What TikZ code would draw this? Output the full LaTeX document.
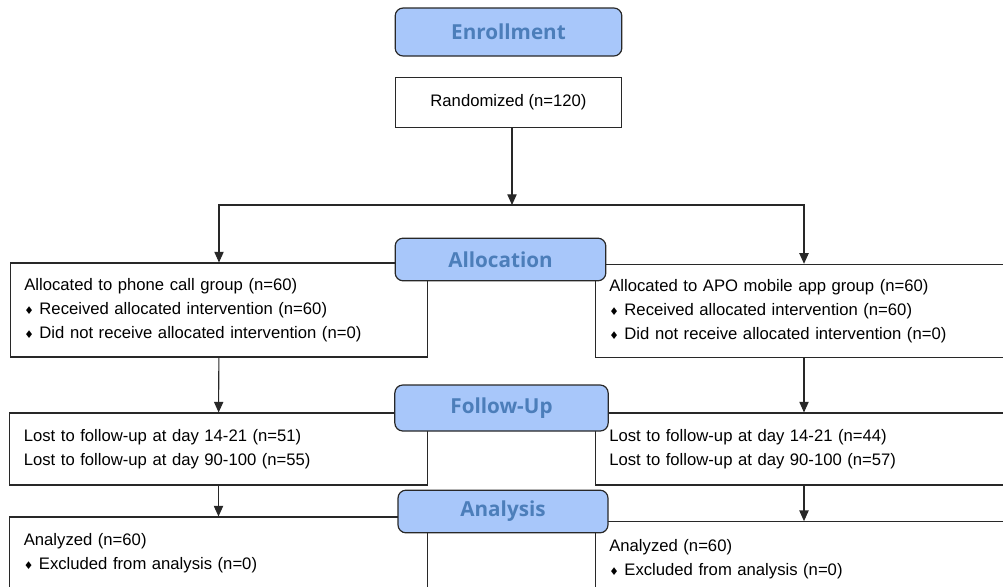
\documentclass[tikz,border=0pt]{standalone}
\usepackage{fontspec}
\setmainfont{Liberation Sans}
\newfontfamily\stagefont{Open Sans}
\newfontfamily\symfont{DejaVu Sans}
\usetikzlibrary{arrows.meta}
\definecolor{stagefill}{RGB}{168,199,250}
\definecolor{stagetext}{RGB}{76,126,186}
\definecolor{edge}{RGB}{40,40,40}
\def\dia{{\footnotesize\symfont ♦}\ }

\begin{document}
\begin{tikzpicture}[x=0.75pt,y=-0.75pt,
  stage/.style={draw=edge,fill=stagefill,rounded corners=6pt,line width=0.9pt,inner sep=0pt,
    text=stagetext,font=\stagefont\bfseries\fontsize{15.5}{18}\selectfont},
  infobox/.style={draw=edge,fill=white,line width=0.8pt,align=left,text width=292pt,
    inner xsep=10.5pt,font=\fontsize{12.5}{18}\selectfont},
  arr/.style={draw=edge,line width=0.8pt,-{Triangle[length=8pt,width=7pt]}}]
\useasboundingbox (0,0) rectangle (1003,586);
\clip (0,0) rectangle (1003,586);
%
\node[draw=edge,line width=0.8pt,minimum width=170pt,minimum height=38pt,
  font=\fontsize{12.5}{18}\selectfont] (rand) at (508.5,102.5) {Randomized (n=120)};
\coordinate (split) at (512,205);
%
\node[infobox,minimum height=70.5pt] (allocL) at (219,310) {Allocated to phone call group (n=60)\\
  \dia Received allocated intervention (n=60)\\ \dia Did not receive allocated intervention (n=0)};
\node[infobox,minimum height=70pt] (allocR) at (804,311) {Allocated to APO mobile app group (n=60)\\
  \dia Received allocated intervention (n=60)\\ \dia Did not receive allocated intervention (n=0)};
\node[infobox,minimum height=54pt] (fuL) at (218.5,449) {Lost to follow-up at day 14-21 (n=51)\\
  Lost to follow-up at day 90-100 (n=55)};
\node[infobox,minimum height=54pt] (fuR) at (804,449) {Lost to follow-up at day 14-21 (n=44)\\
  Lost to follow-up at day 90-100 (n=57)};
\node[infobox,minimum height=54pt] (anL) at (218.5,553) {Analyzed (n=60)\\ \dia Excluded from analysis (n=0)};
\node[infobox,minimum height=56pt] (anR) at (804,559) {Analyzed (n=60)\\ \dia Excluded from analysis (n=0)};
%
\node[stage,minimum width=170pt,minimum height=36pt] (enroll) at (508.5,32) {Enrollment};
\node[stage,minimum width=158pt,minimum height=32pt] (alloc) at (500.5,259.5) {Allocation};
\node[stage,minimum width=160pt,minimum height=34.5pt] (follow) at (501.5,408) {Follow-Up};
\node[stage,minimum width=157.5pt,minimum height=32pt] (analysis) at (503,511.5) {Analysis};
%
\draw[arr] (rand.south -| split) -- (split);
\draw[arr] (split) -| (allocL.north);
\draw[arr] (split) -| (allocR.north);
\draw[arr] (allocL) -- (fuL);
\draw[arr] (allocR) -- (fuR);
\draw[arr] (fuL) -- (anL);
\draw[arr] (fuR) -- (anR);
\end{tikzpicture}
\end{document}
